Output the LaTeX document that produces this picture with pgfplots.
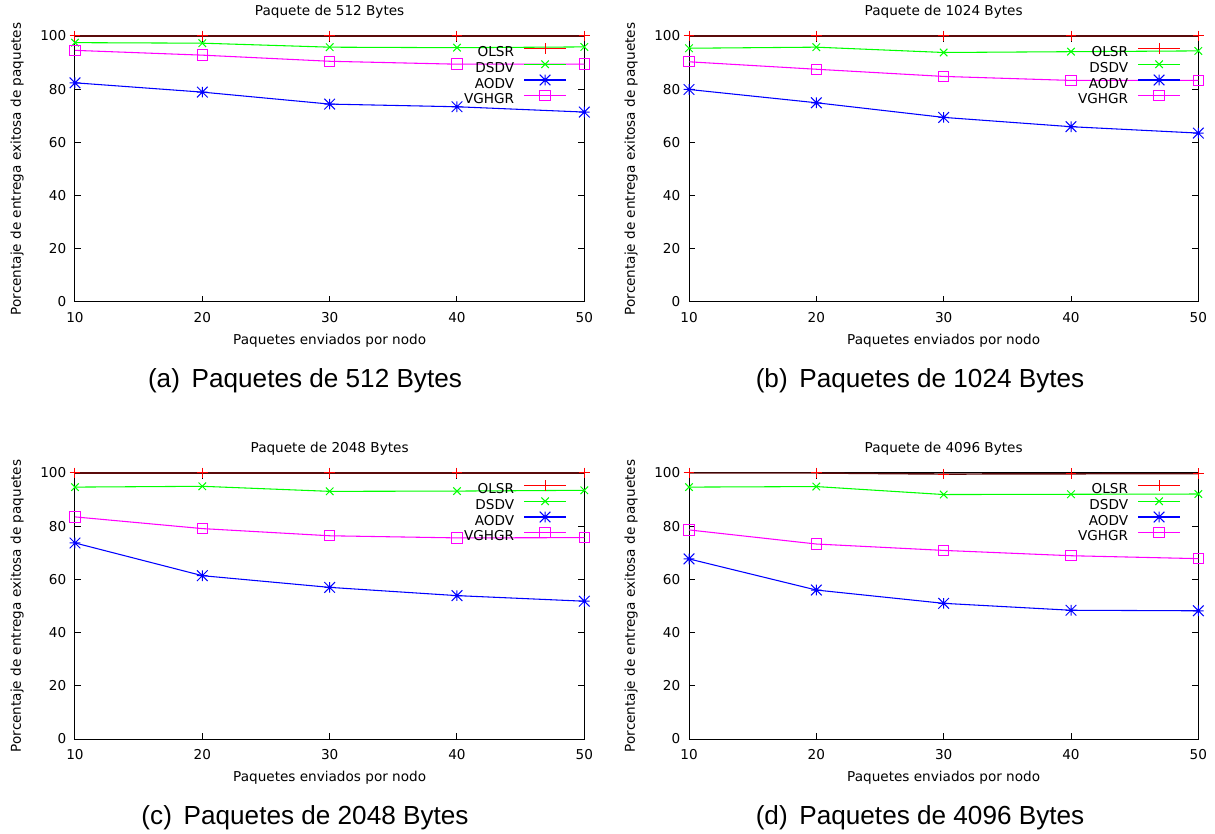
\documentclass[border=0pt]{standalone}
\usepackage{pgfplots}
\pgfplotsset{compat=1.18}
\usepackage{fontspec}
\setmainfont{DejaVu Sans}
\newfontfamily\capfont{Liberation Sans}
\definecolor{gpred}{RGB}{255,0,0}
\definecolor{gpdark}{RGB}{90,10,10}
\definecolor{gpgreen}{RGB}{0,255,0}
\definecolor{gpblue}{RGB}{0,0,255}
\definecolor{gpmag}{RGB}{255,0,255}
\pgfdeclareplotmark{gpstar}{%
  \pgfpathmoveto{\pgfqpoint{-\pgfplotmarksize}{0pt}}\pgfpathlineto{\pgfqpoint{\pgfplotmarksize}{0pt}}%
  \pgfpathmoveto{\pgfqpoint{0pt}{-\pgfplotmarksize}}\pgfpathlineto{\pgfqpoint{0pt}{\pgfplotmarksize}}%
  \pgfpathmoveto{\pgfqpoint{-\pgfplotmarksize}{-\pgfplotmarksize}}\pgfpathlineto{\pgfqpoint{\pgfplotmarksize}{\pgfplotmarksize}}%
  \pgfpathmoveto{\pgfqpoint{-\pgfplotmarksize}{\pgfplotmarksize}}\pgfpathlineto{\pgfqpoint{\pgfplotmarksize}{-\pgfplotmarksize}}%
  \pgfusepathqstroke}
\newcommand{\gpf}{\fontsize{10.2}{12}\selectfont}
\pgfplotsset{
  gp/.style={
    scale only axis, width=382pt, height=199.5pt,
    xmin=10, xmax=50, ymin=0, ymax=100,
    xtick={10,20,30,40,50}, ytick={0,20,40,60,80,100},
    clip=false,
    axis line style={black, line width=0.75pt},
    major tick length=4.5pt,
    every tick/.style={black, line width=0.75pt},
    tick label style={font=\gpf},
    /pgf/number format/assume math mode=true,
    xticklabel style={yshift=-4.5pt},
    yticklabel style={xshift=-3pt},
    every axis title/.style={at={(rel axis cs:0.5,1)}, anchor=center, yshift=18pt, font=\gpf},
    every axis x label/.style={at={(rel axis cs:0.5,0)}, anchor=center, yshift=-29pt, font=\gpf},
    every axis y label/.style={at={(rel axis cs:0,0.5)}, anchor=center, rotate=90, yshift=43.5pt, font=\gpf},
    xlabel={Paquetes enviados por nodo},
    ylabel={Porcentaje de entrega exitosa de paquetes},
    legend style={at={(rel axis cs:1,1)}, anchor=north east, xshift=-13.5pt, yshift=-7pt,
      draw=none, fill=none, inner sep=0pt, row sep=0pt,
      font=\gpf,
      nodes={inner ysep=0pt, inner xsep=0pt, text height=8.3pt, text depth=3.5pt},
      /tikz/column sep=7.5pt},
    legend cell align=right,
    legend plot pos=right,
    legend image code/.code={%
      \path[draw=none, fill=none] (0pt,0pt) rectangle (31.5pt,0pt);
      \draw[overlay, mark repeat=2,mark phase=2] plot coordinates {(0pt,3.7pt)(15.75pt,3.7pt)(31.5pt,3.7pt)};},
    pOLSR/.style={color=gpdark, line width=1.1pt, mark=+, mark size=4pt, mark options={gpred, line width=0.75pt}},
    pDSDV/.style={color=gpgreen, line width=0.8pt, mark=x, mark size=4pt, mark options={line width=0.75pt}},
    pAODV/.style={color=gpblue, line width=0.8pt, mark=gpstar, mark size=4pt, mark options={line width=0.75pt}},
    pVGHGR/.style={color=gpmag, line width=0.8pt, mark=square, mark size=3.9pt, mark options={line width=0.75pt}},
  }
}
\newcommand{\gpplots}[5]{%
  \addlegendimage{color=gpred, line width=0.8pt, mark=+, mark size=4pt}
  \addplot[pOLSR, forget plot] coordinates {#1};
  \addplot[pDSDV] coordinates {#2};
  \addplot[pAODV] coordinates {#3};
  \addplot[pVGHGR] coordinates {#4};
  \legend{OLSR,DSDV,AODV,VGHGR}%
}
\begin{document}
\begin{tikzpicture}
\path[use as bounding box] (0,0) rectangle (911.25pt,624.75pt);
% (a)
\begin{axis}[gp, at={(56.25pt,398.25pt)}, anchor=south west, title={Paquete de 512 Bytes}]
\gpplots{(10,100)(20,100)(30,100)(40,100)(50,100)}
{(10,97.5)(20,97.3)(30,95.8)(40,95.6)(50,95.9)}
{(10,82.4)(20,78.9)(30,74.4)(40,73.4)(50,71.4)}
{(10,94.6)(20,92.8)(30,90.5)(40,89.4)(50,89.4)}{}
\end{axis}
% (b)
\begin{axis}[gp, at={(516.75pt,398.25pt)}, anchor=south west, title={Paquete de 1024 Bytes}]
\gpplots{(10,100)(20,100)(30,100)(40,100)(50,100)}
{(10,95.4)(20,95.8)(30,93.8)(40,94.1)(50,94.4)}
{(10,79.9)(20,74.9)(30,69.4)(40,65.9)(50,63.5)}
{(10,90.3)(20,87.5)(30,84.8)(40,83.3)(50,83.3)}{}
\end{axis}
% (c)
\begin{axis}[gp, at={(56.25pt,70.5pt)}, anchor=south west, title={Paquete de 2048 Bytes}]
\gpplots{(10,100)(20,100)(30,100)(40,100)(50,100)}
{(10,94.7)(20,95.0)(30,93.1)(40,93.2)(50,93.5)}
{(10,73.7)(20,61.4)(30,57.0)(40,53.9)(50,51.8)}
{(10,83.5)(20,79.1)(30,76.4)(40,75.6)(50,75.7)}{}
\end{axis}
% (d)
\begin{axis}[gp, at={(516.75pt,70.5pt)}, anchor=south west, title={Paquete de 4096 Bytes}]
\gpplots{(10,100)(20,100)(30,99.6)(40,99.7)(50,99.8)}
{(10,94.7)(20,94.9)(30,91.9)(40,92.0)(50,92.1)}
{(10,67.7)(20,56.0)(30,51.0)(40,48.4)(50,48.2)}
{(10,78.6)(20,73.3)(30,70.9)(40,68.9)(50,67.8)}{}
\end{axis}
\node[font=\capfont\fontsize{19.6}{23}\selectfont, anchor=center] at (228.75pt,339pt) {(a)\hspace{0.45em}Paquetes de 512 Bytes};
\node[font=\capfont\fontsize{19.6}{23}\selectfont, anchor=center] at (690pt,339pt) {(b)\hspace{0.45em}Paquetes de 1024 Bytes};
\node[font=\capfont\fontsize{19.6}{23}\selectfont, anchor=center] at (228.75pt,11.25pt) {(c)\hspace{0.45em}Paquetes de 2048 Bytes};
\node[font=\capfont\fontsize{19.6}{23}\selectfont, anchor=center] at (690pt,11.25pt) {(d)\hspace{0.45em}Paquetes de 4096 Bytes};
\end{tikzpicture}
\end{document}
